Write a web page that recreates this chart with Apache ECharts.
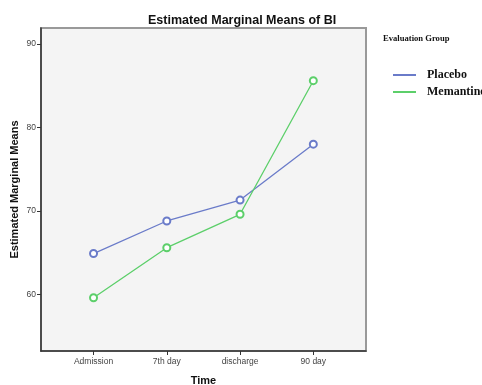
<!DOCTYPE html>
<html>
<head>
<meta charset="utf-8">
<script src="https://cdn.jsdelivr.net/npm/echarts@6/dist/echarts.min.js"></script>
<style>
  html, body { margin: 0; padding: 0; background: #fff; }
  #chart { width: 482px; height: 385px; }
</style>
</head>
<body>
<div id="chart"></div>
<script>
// data
var categories = ['Admission', '7th day', 'discharge', '90 day'];
var placebo = [64.9, 68.8, 71.3, 78.0];
var memantine = [59.6, 65.6, 69.6, 85.6];
var yTicks = [60, 70, 80, 90];

function pairs(vals) {
  return vals.map(function (v, i) { return [i, v]; });
}

var chart = echarts.init(document.getElementById('chart'));
chart.setOption({
  animation: false,
  title: [
    {
      text: 'Estimated Marginal Means of BI',
      left: 148, top: 14, padding: 0,
      textStyle: { fontFamily: 'Liberation Sans', fontWeight: 'bold', fontSize: 12.5, color: '#111' }
    },
    {
      text: 'Evaluation Group',
      left: 383, top: 34, padding: 0,
      textStyle: { fontFamily: 'Liberation Serif', fontWeight: 'bold', fontSize: 8.6, color: '#111' }
    }
  ],
  legend: {
    orient: 'vertical',
    left: 388, top: 64,
    itemWidth: 23, itemHeight: 2, itemGap: 5,
    icon: 'rect',
    textStyle: { fontFamily: 'Liberation Serif', fontWeight: 'bold', fontSize: 12, color: '#111', padding: [0, 0, 0, 6] },
    data: ['Placebo', 'Memantine']
  },
  grid: {
    left: 41, top: 28, right: 116, bottom: 34,
    outerBoundsMode: 'none',
    containLabel: false,
    show: true,
    backgroundColor: '#f4f4f4',
    borderColor: '#999',
    borderWidth: 2
  },
  xAxis: {
    type: 'value',
    min: -0.717, max: 3.719,
    name: 'Time',
    nameLocation: 'middle',
    nameGap: 24,
    nameTextStyle: { fontFamily: 'Liberation Sans', fontWeight: 'bold', fontSize: 11, color: '#111' },
    axisLine: { show: true, onZero: false, lineStyle: { color: '#333', width: 1.5 } },
    axisTick: { show: true, length: 4, customValues: [0, 1, 2, 3], lineStyle: { color: '#333' } },
    axisLabel: {
      customValues: [0, 1, 2, 3],
      formatter: function (v) { return categories[Math.round(v)]; },
      fontFamily: 'Liberation Sans', fontSize: 8.5, color: '#444', margin: 6
    },
    splitLine: { show: false }
  },
  yAxis: {
    type: 'value',
    min: 53.23, max: 91.91,
    name: 'Estimated Marginal Means',
    nameLocation: 'middle',
    nameMoveOverlap: false,
    nameGap: 21,
    nameTextStyle: { fontFamily: 'Liberation Sans', fontWeight: 'bold', fontSize: 11, color: '#111' },
    axisLine: { show: true, onZero: false, lineStyle: { color: '#333', width: 1.5 } },
    axisTick: { show: true, length: 4, customValues: yTicks, lineStyle: { color: '#333' } },
    axisLabel: {
      customValues: yTicks,
      fontFamily: 'Liberation Sans', fontSize: 8.5, color: '#444', margin: 5
    },
    splitLine: { show: false }
  },
  series: [
    {
      name: 'Placebo',
      type: 'line',
      data: pairs(placebo),
      symbol: 'emptyCircle',
      symbolSize: 7,
      color: '#6a7bc9',
      lineStyle: { width: 1.3 },
      itemStyle: { borderWidth: 0.9 }
    },
    {
      name: 'Memantine',
      type: 'line',
      data: pairs(memantine),
      symbol: 'emptyCircle',
      symbolSize: 7,
      color: '#5ccf6a',
      lineStyle: { width: 1.3 },
      itemStyle: { borderWidth: 0.9 }
    }
  ]
});
</script>
</body>
</html>
